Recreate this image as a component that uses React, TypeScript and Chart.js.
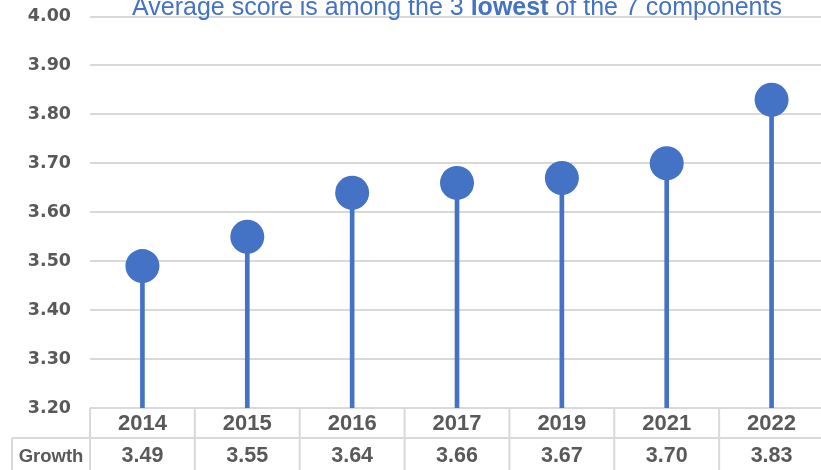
import React, { useEffect, useRef } from "react";
import { Chart, registerables } from "chart.js";

Chart.register(...registerables);

const years = ["2014", "2015", "2016", "2017", "2019", "2021", "2022"];
const growth = [3.49, 3.55, 3.64, 3.66, 3.67, 3.7, 3.83];
const seriesName = "Growth";
const yMin = 3.2;
const yMax = 4.0;
const yStep = 0.1;
const titleParts = [
  { text: "Average score is among the 3 ", bold: false },
  { text: "lowest", bold: true },
  { text: " of the 7 components", bold: false },
];

const BLUE = "#4472C4";
const GRID = "#d9d9d9";
const TEXT = "#595959";
const TITLE_FONT = '"Liberation Sans", Arial, sans-serif';
const TICK_FONT = '"DejaVu Sans", sans-serif';
const TABLE_FONT = '"Liberation Sans", Arial, sans-serif';

const titlePlugin = {
  id: "customTitle",
  afterDraw(chart: any) {
    const ctx = chart.ctx;
    const area = chart.chartArea;
    ctx.save();
    const fonts = titleParts.map((p) => (p.bold ? "bold " : "") + "25px " + TITLE_FONT);
    let total = 0;
    const widths = titleParts.map((p, i) => {
      ctx.font = fonts[i];
      const w = ctx.measureText(p.text).width;
      total += w;
      return w;
    });
    let x = (area.left + area.right) / 2 - total / 2;
    ctx.textBaseline = "alphabetic";
    ctx.textAlign = "left";
    titleParts.forEach((p, i) => {
      ctx.font = fonts[i];
      ctx.fillStyle = BLUE;
      ctx.fillText(p.text, x, 15);
      x += widths[i];
    });
    ctx.restore();
  },
};

const tablePlugin = {
  id: "dataTable",
  afterDraw(chart: any) {
    const ctx = chart.ctx;
    const xs = chart.scales.x;
    const area = chart.chartArea;
    const n = years.length;
    const colW = (area.right - area.left) / n;
    const top = area.bottom;
    const mid = top + 30;
    const bottom = chart.height + 5;
    const labelLeft = 12;
    ctx.save();
    ctx.strokeStyle = GRID;
    ctx.lineWidth = 2;
    ctx.beginPath();
    ctx.moveTo(labelLeft, mid);
    ctx.lineTo(area.right, mid);
    ctx.moveTo(labelLeft, mid);
    ctx.lineTo(labelLeft, bottom);
    for (let i = 0; i <= n; i++) {
      const x = area.left + i * colW;
      ctx.moveTo(x, top);
      ctx.lineTo(x, bottom);
    }
    ctx.stroke();

    ctx.fillStyle = TEXT;
    ctx.textAlign = "center";
    ctx.textBaseline = "middle";
    years.forEach((y, i) => {
      const cx = xs.getPixelForValue(i);
      ctx.font = "bold 22px " + TABLE_FONT;
      ctx.fillText(y, cx, (top + mid) / 2 + 1);
      ctx.font = "bold 21.5px " + TABLE_FONT;
      ctx.fillText(growth[i].toFixed(2), cx, mid + 18.5);
    });
    ctx.font = "bold 18.5px " + TABLE_FONT;
    ctx.fillText(seriesName, (labelLeft + area.left) / 2, mid + 18.5);
    ctx.restore();
  },
};

export default function App() {
  const ref = useRef<HTMLCanvasElement | null>(null);
  useEffect(() => {
    document.body.style.margin = "0";
    if (!ref.current) return;
    const chart = new Chart(ref.current, {
      type: "bar",
      data: {
        labels: years,
        datasets: [
          {
            type: "line",
            label: seriesName + " points",
            data: growth,
            showLine: false,
            pointRadius: 17,
            pointHoverRadius: 17,
            pointBackgroundColor: BLUE,
            pointBorderColor: BLUE,
            pointBorderWidth: 0,
            order: 0,
          } as any,
          {
            type: "bar",
            label: seriesName,
            data: growth,
            backgroundColor: BLUE,
            barThickness: 4,
            order: 1,
          } as any,
        ],
      },
      options: {
        responsive: false,
        animation: false,
        layout: { autoPadding: false, padding: { top: 16.5, bottom: 62, left: 0, right: 0 } },
        plugins: {
          legend: { display: false },
          title: { display: false },
          tooltip: { enabled: false },
        },
        scales: {
          x: {
            display: false,
            offset: true,
            grid: { display: false },
          },
          y: {
            min: yMin,
            max: yMax,
            afterFit(scale: any) {
              scale.width = 90;
              scale.paddingTop = 0;
              scale.paddingBottom = 0;
            },
            border: { display: false },
            grid: { color: GRID, lineWidth: 2, drawTicks: false },
            ticks: {
              stepSize: yStep,
              padding: 19,
              color: TEXT,
              font: { family: TICK_FONT, size: 17.5, weight: "bold" },
              callback: (v: any) => Number(v).toFixed(2),
            },
          },
        },
      } as any,
      plugins: [titlePlugin, tablePlugin],
    });
    return () => chart.destroy();
  }, []);
  return (
    <div style={{ width: 821, height: 470, overflow: "hidden", position: "relative" }}>
      <canvas ref={ref} width={824} height={470} style={{ display: "block" }} />
    </div>
  );
}
